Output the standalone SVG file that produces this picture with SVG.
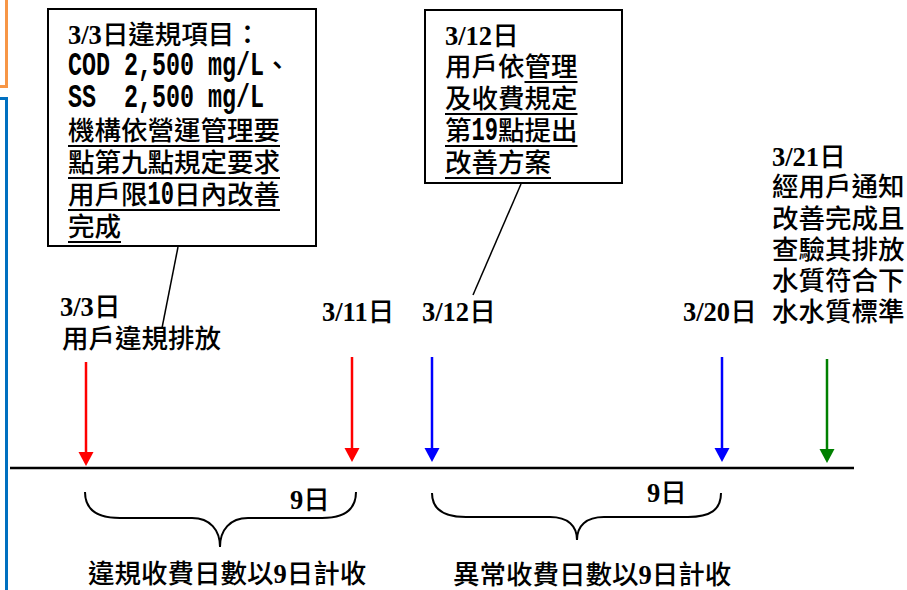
<svg xmlns="http://www.w3.org/2000/svg" width="907" height="590" viewBox="0 0 907 590">
<style>
text{font-family:"Noto Sans CJK TC","Noto Sans CJK SC",sans-serif;font-size:26.5px;font-weight:500;fill:#000}
.b{font-family:"Liberation Serif","Noto Sans CJK TC",serif;font-weight:bold}
.mono{font-family:"Liberation Mono","DejaVu Sans Mono",monospace;font-size:34px;font-weight:bold;white-space:pre}
.box{fill:#fff;stroke:#000;stroke-width:2}
.ul{stroke:#000;stroke-width:2;fill:none}
.brace{fill:none;stroke:#000;stroke-width:2}
.call{stroke:#000;stroke-width:1.5;fill:none}
.tl{stroke:#000;stroke-width:2.5}
.ar{stroke-width:2.5;fill:none}
</style>
<defs>
<marker id="hr" markerWidth="15" markerHeight="16" refX="6" refY="7.5" orient="auto" markerUnits="userSpaceOnUse"><path d="M0,0 L14,7.5 L0,15 z" fill="#ff0000"/></marker>
<marker id="hb" markerWidth="15" markerHeight="16" refX="6" refY="7.5" orient="auto" markerUnits="userSpaceOnUse"><path d="M0,0 L14,7.5 L0,15 z" fill="#0000ff"/></marker>
<marker id="hg" markerWidth="15" markerHeight="16" refX="6" refY="7.5" orient="auto" markerUnits="userSpaceOnUse"><path d="M0,0 L14,7.5 L0,15 z" fill="#008000"/></marker>
</defs>
<rect width="907" height="590" fill="#fff"/>
<g id="frame-edges">
<polyline points="6.5,0 6.5,86.5 0,86.5" fill="none" stroke="#f79646" stroke-width="3"/>
<polyline points="0,98.5 6.5,98.5 6.5,590" fill="none" stroke="#0070c0" stroke-width="3"/>
</g>
<g id="connectors">
<line class="tl" x1="10" y1="468" x2="854" y2="468"/>
<line class="ar" x1="86" y1="362" x2="86" y2="458" stroke="#ff0000" marker-end="url(#hr)"/>
<line class="ar" x1="352" y1="357" x2="352" y2="454" stroke="#ff0000" marker-end="url(#hr)"/>
<line class="ar" x1="432" y1="357" x2="432" y2="454" stroke="#0000ff" marker-end="url(#hb)"/>
<line class="ar" x1="722" y1="357" x2="722" y2="454" stroke="#0000ff" marker-end="url(#hb)"/>
<line class="ar" x1="827" y1="359" x2="827" y2="455" stroke="#008000" marker-end="url(#hg)"/>
<line class="call" x1="178" y1="247" x2="162" y2="328"/>
<line class="call" x1="521" y1="184" x2="473" y2="295"/>
</g>
<g id="box-violation">
<rect class="box" x="48" y="9" width="268" height="237"/>
<text x="68" y="44"><tspan class="b">3/3</tspan>日違規項目：</text>
<text class="mono" x="68" y="75" textLength="196" lengthAdjust="spacingAndGlyphs" xml:space="preserve">COD 2,500 mg/L</text>
<text x="264" y="75">、</text>
<text class="mono" x="68" y="107" textLength="196" lengthAdjust="spacingAndGlyphs" xml:space="preserve">SS  2,500 mg/L</text>
<text x="68" y="140">機構依營運管理要</text>
<text x="68" y="172">點第九點規定要求</text>
<text x="68" y="204">用戶限</text>
<text class="mono" x="147.5" y="204" textLength="26.5" lengthAdjust="spacingAndGlyphs">10</text>
<text x="174" y="204">日內改善</text>
<text x="68" y="236">完成</text>
<path class="ul" d="M68,146H280M68,178H280M68,210H280M68,242H121"/>
</g>
<g id="box-plan">
<rect class="box" x="425" y="10" width="197" height="173"/>
<text x="445" y="45"><tspan class="b">3/12</tspan>日</text>
<text x="445" y="76">用戶依管理</text>
<text x="445" y="108">及收費規定</text>
<text x="445" y="140">第</text>
<text class="mono" x="471.5" y="140" textLength="26.5" lengthAdjust="spacingAndGlyphs">19</text>
<text x="498" y="140">點提出</text>
<text x="445" y="172">改善方案</text>
<path class="ul" d="M524.5,82H577.5M445,114H577.5M445,146H577.5M445,178H551"/>
</g>
<g id="label-0303">
<text x="60" y="316"><tspan class="b">3/3</tspan>日</text>
<text x="62" y="348">用戶違規排放</text>
</g>
<g id="label-0311"><text x="322" y="321"><tspan class="b">3/11</tspan>日</text></g>
<g id="label-0312"><text x="422" y="321"><tspan class="b">3/12</tspan>日</text></g>
<g id="label-0320"><text x="683" y="321"><tspan class="b">3/20</tspan>日</text></g>
<g id="label-0321">
<text x="772" y="166"><tspan class="b">3/21</tspan>日</text>
<text x="772" y="196">經用戶通知</text>
<text x="772" y="228">改善完成且</text>
<text x="772" y="259">查驗其排放</text>
<text x="772" y="290">水質符合下</text>
<text x="772" y="321">水水質標準</text>
</g>
<g id="brace-violation">
<path class="brace" d="M85,492 C85,510 98,518 120,518 L192,518 C210,518 220,530 220,547 C220,530 230,518 248,518 L322,518 C344,518 356,510 356,492"/>
<text x="290" y="509"><tspan class="b">9</tspan>日</text>
<text x="88" y="583">違規收費日數以<tspan class="b">9</tspan>日計收</text>
</g>
<g id="brace-abnormal">
<path class="brace" d="M432,493 C432,510 445,517 466,517 L550,517 C568,517 577,526 577,540 C577,526 586,517 604,517 L688,517 C710,517 721,510 721,493"/>
<text x="647" y="502"><tspan class="b">9</tspan>日</text>
<text x="453" y="584">異常收費日數以<tspan class="b">9</tspan>日計收</text>
</g>
</svg>
